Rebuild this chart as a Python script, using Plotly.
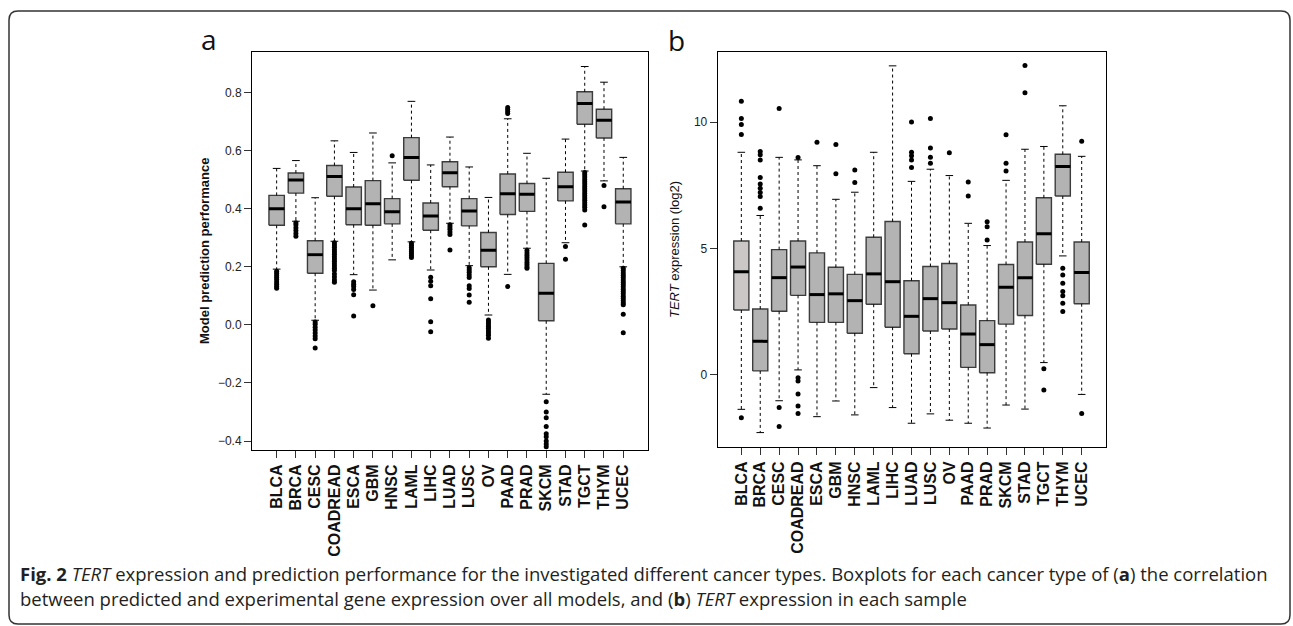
import plotly.graph_objects as go

cancers = ["BLCA", "BRCA", "CESC", "COADREAD", "ESCA", "GBM", "HNSC", "LAML", "LIHC",
           "LUAD", "LUSC", "OV", "PAAD", "PRAD", "SKCM", "STAD", "TGCT", "THYM", "UCEC"]

# Panel a: model prediction performance (box statistics)
perf_low = [0.192, 0.357, 0.016, 0.288, 0.173, 0.120, 0.224, 0.286, 0.189, 0.350,
            0.204, 0.034, 0.174, 0.264, -0.239, 0.283, 0.530, 0.496, 0.200]
perf_q1 = [0.343, 0.454, 0.178, 0.443, 0.345, 0.343, 0.348, 0.498, 0.326, 0.476,
           0.341, 0.200, 0.380, 0.391, 0.014, 0.427, 0.691, 0.644, 0.348]
perf_med = [0.400, 0.499, 0.242, 0.511, 0.400, 0.417, 0.390, 0.577, 0.375, 0.524,
            0.392, 0.257, 0.452, 0.450, 0.109, 0.476, 0.763, 0.705, 0.423]
perf_q3 = [0.446, 0.523, 0.290, 0.549, 0.475, 0.497, 0.435, 0.645, 0.420, 0.562,
           0.435, 0.318, 0.520, 0.487, 0.212, 0.526, 0.803, 0.743, 0.469]
perf_high = [0.539, 0.566, 0.438, 0.634, 0.594, 0.661, 0.558, 0.770, 0.551, 0.647,
             0.544, 0.439, 0.710, 0.591, 0.505, 0.640, 0.890, 0.836, 0.577]
perf_out = [
    [0.185, 0.178, 0.170, 0.163, 0.156, 0.148, 0.140, 0.132, 0.126],
    [0.352, 0.345, 0.335, 0.325, 0.315, 0.305],
    [0.010, 0.002, -0.008, -0.018, -0.028, -0.038, -0.048, -0.080],
    [0.283, 0.275, 0.267, 0.259, 0.251, 0.243, 0.235, 0.227, 0.219, 0.211, 0.203,
     0.195, 0.187, 0.175, 0.165, 0.155, 0.147],
    [0.149, 0.140, 0.132, 0.122, 0.104, 0.031],
    [0.066],
    [0.583],
    [0.281, 0.274, 0.267, 0.260, 0.253, 0.246, 0.239, 0.232],
    [0.164, 0.150, 0.135, 0.090, 0.011, -0.024],
    [0.345, 0.337, 0.329, 0.320, 0.311, 0.258],
    [0.197, 0.189, 0.181, 0.172, 0.163, 0.135, 0.125, 0.103, 0.078],
    [0.017, 0.010, 0.003, -0.005, -0.012, -0.020, -0.028, -0.036, -0.046],
    [0.749, 0.742, 0.735, 0.728, 0.132],
    [0.256, 0.248, 0.240, 0.232, 0.224, 0.216, 0.208, 0.200, 0.195],
    [-0.265, -0.300, -0.320, -0.350, -0.375, -0.385, -0.400, -0.410, -0.420],
    [0.270, 0.226],
    [0.525, 0.517, 0.509, 0.501, 0.493, 0.485, 0.477, 0.469, 0.461, 0.453, 0.445,
     0.437, 0.429, 0.421, 0.413, 0.405, 0.396, 0.344],
    [0.480, 0.407],
    [0.195, 0.187, 0.179, 0.171, 0.163, 0.155, 0.147, 0.139, 0.131, 0.123, 0.115,
     0.107, 0.099, 0.091, 0.083, 0.075, 0.069, 0.037, -0.027],
]

# Panel b: TERT expression (log2)
tert_low = [-1.36, -2.28, -1.02, 0.20, -1.65, -1.03, -1.58, -0.50, -1.29, -1.91,
            -1.54, -1.79, -1.91, -2.10, -1.19, -1.35, 0.49, 4.71, -0.77]
tert_q1 = [2.57, 0.16, 2.52, 3.15, 2.08, 2.08, 1.65, 2.80, 1.89, 0.84,
           1.74, 1.82, 0.30, 0.09, 2.01, 2.35, 4.38, 7.08, 2.82]
tert_med = [4.08, 1.33, 3.85, 4.27, 3.18, 3.21, 2.94, 4.00, 3.69, 2.32,
            3.02, 2.86, 1.62, 1.20, 3.47, 3.85, 5.59, 8.25, 4.05]
tert_q3 = [5.30, 2.61, 4.96, 5.30, 4.83, 4.26, 3.98, 5.45, 6.07, 3.73,
           4.29, 4.41, 2.77, 2.15, 4.37, 5.26, 7.01, 8.73, 5.26]
tert_high = [8.81, 6.31, 8.61, 8.51, 8.28, 6.95, 7.23, 8.81, 12.23, 7.66,
             8.14, 7.89, 6.00, 5.12, 7.70, 8.93, 9.04, 10.65, 8.65]
tert_out = [
    [10.83, 10.15, 9.91, 9.51, -1.69],
    [8.84, 8.71, 8.51, 7.81, 7.56, 7.39, 7.22, 7.06, 6.60],
    [10.54, -1.29, -2.04],
    [8.60, -0.11, -0.24, -0.75, -1.23, -1.52],
    [9.21],
    [9.12, 7.96],
    [8.11, 7.61],
    [],
    [],
    [10.01, 8.81, 8.67, 8.51, 8.21],
    [10.15, 8.98, 8.61, 8.38],
    [8.79],
    [7.63, 7.08],
    [6.06, 5.86, 5.34],
    [9.50, 8.38, 8.07],
    [12.24, 11.17],
    [0.25, -0.59],
    [4.22, 3.96, 3.63, 3.30, 3.13, 2.84, 2.51],
    [9.25, -1.52],
]

perf_ticks = [-0.4, -0.2, 0.0, 0.2, 0.4, 0.6, 0.8]
perf_ticktext = ["\u22120.4", "\u22120.2", "0.0", "0.2", "0.4", "0.6", "0.8"]
tert_ticks = [0, 5, 10]
tert_ticktext = ["0", "5", "10"]

W, H = 1293, 626
BOX_HALF = 0.4
CAP_HALF = 0.2
FILL = "#b3b3b3"
EDGE = "#3c3c3c"

fig = go.Figure()


def add_panel(fig, low, q1, med, q3, high, outs, xa, ya, fills):
    xs = list(range(len(cancers)))
    for i in xs:
        fig.add_trace(go.Scatter(
            x=[i - BOX_HALF, i + BOX_HALF, i + BOX_HALF, i - BOX_HALF, i - BOX_HALF],
            y=[q1[i], q1[i], q3[i], q3[i], q1[i]],
            mode="lines", fill="toself", fillcolor=fills[i],
            line=dict(color=EDGE, width=1.4), xaxis=xa, yaxis=ya,
            hoverinfo="skip", showlegend=False))
    # dashed whiskers
    wx, wy = [], []
    for i in xs:
        wx += [i, i, None, i, i, None]
        wy += [q3[i], high[i], None, q1[i], low[i], None]
    fig.add_trace(go.Scatter(x=wx, y=wy, mode="lines",
                             line=dict(color="black", width=1, dash="3px,3px"),
                             xaxis=xa, yaxis=ya, hoverinfo="skip", showlegend=False))
    # staples
    cx, cy = [], []
    for i in xs:
        cx += [i - CAP_HALF, i + CAP_HALF, None, i - CAP_HALF, i + CAP_HALF, None]
        cy += [high[i], high[i], None, low[i], low[i], None]
    fig.add_trace(go.Scatter(x=cx, y=cy, mode="lines",
                             line=dict(color="black", width=1),
                             xaxis=xa, yaxis=ya, hoverinfo="skip", showlegend=False))
    # medians
    mx, my = [], []
    for i in xs:
        mx += [i - BOX_HALF, i + BOX_HALF, None]
        my += [med[i], med[i], None]
    fig.add_trace(go.Scatter(x=mx, y=my, mode="lines",
                             line=dict(color="black", width=3),
                             xaxis=xa, yaxis=ya, hoverinfo="skip", showlegend=False))
    # outliers
    ox, oy = [], []
    for i in xs:
        for v in outs[i]:
            ox.append(i)
            oy.append(v)
    fig.add_trace(go.Scatter(x=ox, y=oy, mode="markers",
                             marker=dict(color="black", size=5, line=dict(width=0)),
                             xaxis=xa, yaxis=ya, hoverinfo="skip", showlegend=False))


fills_a = [FILL] * len(cancers)
fills_b = ["#cbc7c7"] + [FILL] * (len(cancers) - 1)
add_panel(fig, perf_low, perf_q1, perf_med, perf_q3, perf_high, perf_out, "x", "y", fills_a)
add_panel(fig, tert_low, tert_q1, tert_med, tert_q3, tert_high, tert_out, "x2", "y2", fills_b)

axis_common = dict(showline=True, mirror=True, linecolor="black", linewidth=1,
                   ticks="outside", ticklen=7, tickcolor="#333", tickwidth=1,
                   showgrid=False, zeroline=False)
xtick_font = dict(family="Liberation Sans, Arial, sans-serif", size=16, color="#111")
ytick_font = dict(family="Liberation Sans, Arial, sans-serif", size=12, color="#222")

fig.update_layout(
    width=W, height=H,
    margin=dict(l=0, r=0, t=0, b=0),
    paper_bgcolor="white", plot_bgcolor="white",
    xaxis=dict(domain=[252 / W, 647.7 / W], range=[-1.28, 19.27],
               tickvals=list(range(len(cancers))),
               ticktext=["<b>%s</b>" % c for c in cancers],
               tickangle=-90, tickfont=xtick_font, **axis_common),
    yaxis=dict(domain=[1 - 450 / H, 1 - 52 / H], range=[-0.431, 0.94],
               tickvals=perf_ticks, ticktext=perf_ticktext, tickfont=ytick_font,
               **axis_common),
    xaxis2=dict(domain=[717.7 / W, 1105.7 / W], range=[-1.25, 19.27], anchor="y2",
                tickvals=list(range(len(cancers))),
                ticktext=["<b>%s</b>" % c for c in cancers],
                tickangle=-90, tickfont=xtick_font, **axis_common),
    yaxis2=dict(domain=[1 - 447 / H, 1 - 51.7 / H], range=[-2.85, 12.79], anchor="x2",
                tickvals=tert_ticks, ticktext=tert_ticktext, tickfont=ytick_font,
                **axis_common),
)

ann_font = "Liberation Sans, Arial, sans-serif"
annotations = [
    dict(text="<b>Model prediction performance</b>", x=205 / W, y=1 - 251 / H,
         textangle=-90, xanchor="center", yanchor="middle",
         font=dict(family=ann_font, size=13, color="#111")),
    dict(text="<i>TERT</i> expression (log2)", x=675 / W, y=1 - 250 / H,
         textangle=-90, xanchor="center", yanchor="middle",
         font=dict(family=ann_font, size=13, color="#111")),
    dict(text="a", x=209 / W, y=1 - 39 / H, xanchor="center", yanchor="middle",
         font=dict(family="Open Sans, sans-serif", size=28, color="#111")),
    dict(text="b", x=677 / W, y=1 - 40 / H, xanchor="center", yanchor="middle",
         font=dict(family="Open Sans, sans-serif", size=28, color="#111")),
    dict(text="<b>Fig. 2</b> <i>TERT</i> expression and prediction performance for the "
              "investigated different cancer types. Boxplots for each cancer type of "
              "(<b>a</b>) the correlation",
         x=18 / W, y=1 - 573 / H, xanchor="left", yanchor="middle",
         font=dict(family="Open Sans, sans-serif", size=18.5, color="#231f20")),
    dict(text="between predicted and experimental gene expression over all models, and "
              "(<b>b</b>) <i>TERT</i> expression in each sample",
         x=18 / W, y=1 - 598 / H, xanchor="left", yanchor="middle",
         font=dict(family="Open Sans, sans-serif", size=18.5, color="#231f20")),
]
for a in annotations:
    a.update(xref="paper", yref="paper", showarrow=False)
fig.update_layout(annotations=annotations)

# rounded outer frame of the figure
x0, x1 = 9 / W, 1290 / W
y0, y1 = 1 - 624 / H, 1 - 11 / H
rx, ry = 9 / W, 9 / H
path = (f"M {x0 + rx},{y1} L {x1 - rx},{y1} Q {x1},{y1} {x1},{y1 - ry} "
        f"L {x1},{y0 + ry} Q {x1},{y0} {x1 - rx},{y0} L {x0 + rx},{y0} "
        f"Q {x0},{y0} {x0},{y0 + ry} L {x0},{y1 - ry} Q {x0},{y1} {x0 + rx},{y1} Z")
fig.add_shape(type="path", path=path, xref="paper", yref="paper",
              line=dict(color="#333", width=1.5))

fig.write_html("out.html", config={"displayModeBar": False},
               post_script="document.body.style.margin='0px';")
